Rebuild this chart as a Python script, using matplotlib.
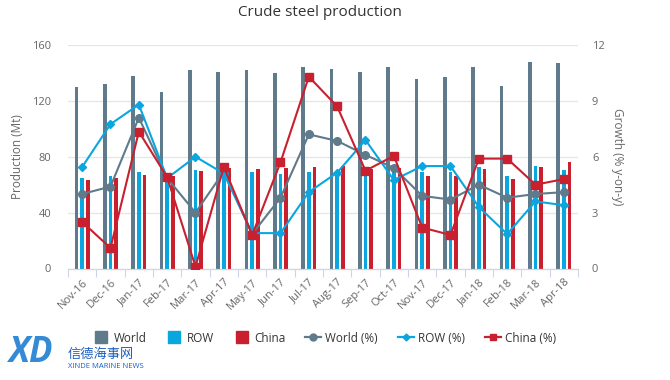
import matplotlib
matplotlib.use('Agg')
import matplotlib.pyplot as plt
from matplotlib.lines import Line2D
import numpy as np

plt.rcParams.update({'font.family': ['Open Sans', 'Noto Sans CJK SC', 'DejaVu Sans'],
                     'font.size': 8})

months = ['Nov-16', 'Dec-16', 'Jan-17', 'Feb-17', 'Mar-17', 'Apr-17', 'May-17', 'Jun-17',
          'Jul-17', 'Aug-17', 'Sep-17', 'Oct-17', 'Nov-17', 'Dec-17', 'Jan-18', 'Feb-18',
          'Mar-18', 'Apr-18']
world = [130, 132, 138, 126, 142, 141, 142, 140, 144, 143, 141, 144, 136, 137, 144, 131, 148, 147]
row = [65, 66, 69, 64, 70.5, 70, 69, 67.5, 69, 69, 69, 69, 69, 69, 73, 66, 73.5, 70.5]
china = [63.5, 64.5, 67, 66, 70, 72, 71, 72, 73, 73.5, 71.5, 72, 66, 66.5, 71, 64, 73, 76]
world_pct = [4.0, 4.4, 8.1, 4.85, 3.0, 5.2, 1.85, 3.8, 7.2, 6.85, 6.1, 5.4, 3.9, 3.7, 4.5, 3.8, 4.0, 4.1]
row_pct = [5.45, 7.75, 8.8, 4.85, 6.0, 5.1, 1.9, 1.9, 4.1, 5.15, 6.9, 4.75, 5.5, 5.5, 3.3, 1.85, 3.6, 3.4]
china_pct = [2.5, 1.1, 7.35, 4.9, 0.1, 5.45, 1.8, 5.7, 10.3, 8.7, 5.25, 6.05, 2.2, 1.8, 5.9, 5.9, 4.5, 4.8]

C_WORLD = '#5E7A8B'
C_ROW = '#0AA6E0'
C_CHINA = '#C8202F'
TXT = '#666666'
GRID = '#E6E6E6'

fig = plt.figure(figsize=(6.7, 3.8), dpi=100)
ax = fig.add_axes([68/670, 1-268.5/380, 510/670, 223.5/380])
ax2 = ax.twinx()

x = np.arange(len(months))
w = 0.14
ax.bar(x-0.2, world, w, color=C_WORLD, zorder=2)
ax.bar(x, row, w, color=C_ROW, zorder=2)
ax.bar(x+0.2, china, w, color=C_CHINA, zorder=2)

ax2.plot(x, world_pct, color=C_WORLD, lw=1.5, marker='o', ms=5.5, zorder=3)
ax2.plot(x, row_pct, color=C_ROW, lw=1.5, marker='D', ms=3.8, zorder=3)
ax2.plot(x, china_pct, color=C_CHINA, lw=1.5, marker='s', ms=6, zorder=3)

ax.set_xlim(-0.5, len(months)-0.5)
ax.set_ylim(0, 160)
ax2.set_ylim(0, 12)
ax.set_yticks([0, 40, 80, 120, 160])
ax2.set_yticks([0, 3, 6, 9, 12])
ax.yaxis.grid(True, color=GRID, lw=0.9, zorder=0)
ax.set_axisbelow(True)

ax.set_xticks(x)
ax.set_xticklabels(months, rotation=45, ha='right', rotation_mode='anchor', color=TXT, fontsize=8)
ax.tick_params(axis='x', length=0, pad=6)
ax.set_xticks(np.arange(-0.5, len(months)), minor=True)
ax.tick_params(axis='x', which='minor', length=6, color='#CCD6EB', width=0.8)
ax.tick_params(axis='y', length=0, colors=TXT, labelsize=8, pad=12)
ax2.tick_params(axis='y', length=0, colors=TXT, labelsize=8, pad=10)

for a in (ax, ax2):
    for s in ('top', 'left', 'right'):
        a.spines[s].set_visible(False)
    a.spines['bottom'].set_color('#CCD6EB')

ax.set_ylabel('Production (Mt)', color=TXT, fontsize=8.5, labelpad=6)
ax2.set_ylabel('Growth (% y-on-y)', color=TXT, fontsize=8.5, rotation=270, labelpad=14)

fig.text(320/670, 1-13/380, 'Crude steel production', ha='center', va='center',
         fontsize=11, color='#333333')

handles = [
    Line2D([], [], ls='none', marker='s', ms=8, color=C_WORLD),
    Line2D([], [], ls='none', marker='s', ms=8, color=C_ROW),
    Line2D([], [], ls='none', marker='s', ms=8, color=C_CHINA),
    Line2D([], [], color=C_WORLD, lw=1.6, marker='o', ms=5),
    Line2D([], [], color=C_ROW, lw=1.6, marker='D', ms=3.5),
    Line2D([], [], color=C_CHINA, lw=1.6, marker='s', ms=5),
]
labels = ['World', 'ROW', 'China', 'World (%)', 'ROW (%)', 'China (%)']
fig.legend(handles, labels, loc='center', bbox_to_anchor=(325/670, 1-338/380), ncol=6,
           frameon=False, fontsize=8.5, handlelength=1.3, handletextpad=0.4, columnspacing=1.7,
           labelcolor='#333333')

# watermark logo
fig.text(9/670, 1-353/380, 'XD', fontsize=25, fontweight='bold', fontstyle='italic',
         color='#1C7FD0', ha='left', va='center', alpha=0.9)
fig.text(68/670, 1-354/380, '信德海事网', fontsize=9.5, color='#1C5FC0', ha='left', va='center',
         family=['Noto Sans CJK SC', 'DejaVu Sans'])
fig.text(68/670, 1-367/380, 'XINDE MARINE NEWS', fontsize=5.5, color='#1C5FC0', ha='left', va='center')

fig.savefig('out.png', dpi=100, facecolor='white')
